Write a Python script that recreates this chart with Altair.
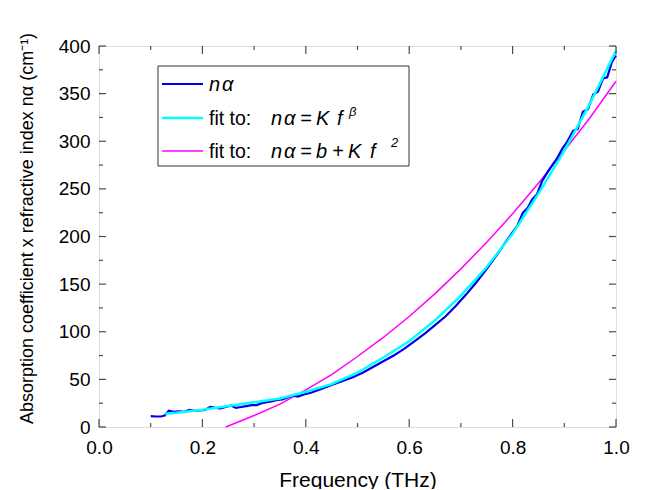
import altair as alt
import pandas as pd

# ---- data ----
blue_f = [0.100, 0.110, 0.120, 0.127, 0.135, 0.145, 0.155, 0.165, 0.175, 0.185,
          0.195, 0.205, 0.215, 0.225, 0.235, 0.245, 0.255, 0.265, 0.275, 0.285,
          0.295, 0.305, 0.315, 0.325, 0.335, 0.345, 0.355, 0.365, 0.375, 0.385,
          0.395, 0.41, 0.43, 0.45, 0.47, 0.49, 0.51, 0.53, 0.55, 0.57,
          0.59, 0.61, 0.63, 0.65, 0.67, 0.69, 0.71, 0.73, 0.75, 0.77,
          0.79, 0.809, 0.82, 0.829, 0.838, 0.847, 0.857, 0.867, 0.878, 0.886,
          0.896, 0.905, 0.917, 0.926, 0.936, 0.946, 0.956, 0.965, 0.975, 0.983,
          0.992, 1.0]
blue_v = [11.5, 11, 11, 12, 17, 16, 16.5, 16, 18, 17,
          17.5, 18, 21, 20, 19.5, 21, 22.5, 20, 21, 22,
          23, 23, 25, 26, 27, 28.5, 29, 31, 33, 32,
          34, 36, 40, 44, 48, 52, 57, 63, 69, 75,
          82, 90, 98, 107, 116, 127, 139, 152, 166, 181,
          197, 211, 225, 230, 239, 244, 258, 267, 276, 282,
          292, 299, 311, 313, 331, 334, 349, 352, 366, 367,
          383, 390]

cyan_f = [0.128, 0.15, 0.2, 0.25, 0.3, 0.35, 0.4, 0.45, 0.5, 0.55, 0.6,
          0.65, 0.7, 0.75, 0.8, 0.85, 0.9, 0.95, 1.0]
cyan_v = [14, 15, 18, 22, 26, 30, 37, 45, 57, 73, 90,
          112, 138, 168, 203, 245, 290, 340, 395]

mag_f = [0.245, 0.25, 0.3, 0.35, 0.4, 0.45, 0.5, 0.55, 0.6, 0.65, 0.7,
         0.75, 0.8, 0.85, 0.9, 0.95, 1.0]
mag_v = [0, 1, 12, 24, 39, 55, 74, 94, 116, 140, 166,
         194, 224, 256, 290, 325, 363]

x_major = [0.0, 0.2, 0.4, 0.6, 0.8, 1.0]
x_minor = [0.1, 0.3, 0.5, 0.7, 0.9]
y_major = [0, 50, 100, 150, 200, 250, 300, 350, 400]
y_minor = [25, 75, 125, 175, 225, 275, 325, 375]

W, H = 517, 381
FONT = "Liberation Sans"

xs = alt.Scale(domain=[0, 1], nice=False, zero=False)
ys = alt.Scale(domain=[0, 400], nice=False, zero=False)

blue_df = pd.DataFrame({"f": blue_f, "v": blue_v})
cyan_df = pd.DataFrame({"f": cyan_f, "v": cyan_v})
mag_df = pd.DataFrame({"f": mag_f, "v": mag_v})

xaxis = alt.Axis(values=x_major, format=".1f", ticks=False, tickSize=0, domain=False,
                 grid=False, labelFontSize=19, labelPadding=11, labelColor="black",
                 labelFlush=False,
                 title="Frequency (THz)", titleFontSize=21, titleFontWeight="normal",
                 titlePadding=12, titleColor="black")
yaxis = alt.Axis(values=y_major, format="d", ticks=False, tickSize=0, domain=False,
                 grid=False, labelFontSize=19, labelPadding=9, labelColor="black",
                 labelFlush=False,
                 title="Absorption coefficient x refractive index nα (cm⁻¹)",
                 titleFontSize=18, titleFontWeight="normal", titleColor="black",
                 titleX=-72, titleY=182, titleAngle=270, titleAlign="center",
                 titleBaseline="middle")

X = alt.X("f:Q", scale=xs, axis=xaxis)
Y = alt.Y("v:Q", scale=ys, axis=yaxis)

mag = alt.Chart(mag_df).mark_line(color="#ff00ff", strokeWidth=1.5).encode(x=X, y=Y)
blue = alt.Chart(blue_df).mark_line(color="#0000ee", strokeWidth=2.2).encode(x=X, y=Y)
cyan = alt.Chart(cyan_df).mark_line(color="#00ffff", strokeWidth=2.5).encode(x=X, y=Y)


def xticks(vals, size):
    d = pd.DataFrame({"f": vals})
    m = alt.Chart(d).mark_tick(orient="vertical", size=size, thickness=1.2, color="black")
    return [m.encode(x=X, y=alt.value(H - size / 2)),
            m.encode(x=X, y=alt.value(size / 2))]


def yticks(vals, size):
    d = pd.DataFrame({"v": vals})
    m = alt.Chart(d).mark_tick(orient="horizontal", size=size, thickness=1.2, color="black")
    return [m.encode(y=Y, x=alt.value(size / 2)),
            m.encode(y=Y, x=alt.value(W - size / 2))]


ticks = xticks(x_major, 8) + xticks(x_minor, 4) + yticks(y_major, 7) + yticks(y_minor, 4)

one = pd.DataFrame({"a": [0]})
box = alt.Chart(one).mark_rect(fill="white", stroke="#333333", strokeWidth=1).encode(
    x=alt.value(59), x2=alt.value(310), y=alt.value(20), y2=alt.value(120))


def lline(color, yy, w):
    return alt.Chart(one).mark_rule(color=color, strokeWidth=w).encode(
        x=alt.value(63), x2=alt.value(104), y=alt.value(yy))


def txt(s, x, y, size=20, italic=False):
    return alt.Chart(one).mark_text(align="left", baseline="middle", fontSize=size,
                                    font=FONT, fontStyle="italic" if italic else "normal",
                                    color="black").encode(
        x=alt.value(x), y=alt.value(y), text=alt.value(s))


def na(y):
    return [txt("n", 172, y, italic=True), txt("α", 185, y, italic=True)]


legend = [box,
          lline("#0000ee", 38, 2.2), lline("#00ffff", 72, 2.5), lline("#ff00ff", 105, 1.5),
          txt("n", 110, 39, italic=True), txt("α", 123, 39, italic=True),
          txt("fit to:", 110, 73, size=19.5), *na(73),
          txt("=", 201, 73, italic=True),
          txt("K", 217, 73, italic=True), txt("f", 238, 73, italic=True),
          txt("β", 250, 66, size=13, italic=True),
          txt("fit to:", 110, 106, size=19.5), *na(106),
          txt("=", 201, 106, italic=True),
          txt("b", 217, 106, italic=True), txt("+", 233, 106, italic=True),
          txt("K", 249, 106, italic=True), txt("f", 271, 106, italic=True),
          txt("2", 292, 97, size=13, italic=True)]

chart = alt.layer(mag, blue, cyan, *ticks, *legend).properties(
    width=W, height=H,
    padding={"left": 91, "top": 38, "right": 20, "bottom": 62},
    autosize="none",
).configure_view(stroke="black", strokeWidth=1.5).configure(font=FONT)

chart.save("out.html", embed_options={"renderer": "svg", "actions": False})
